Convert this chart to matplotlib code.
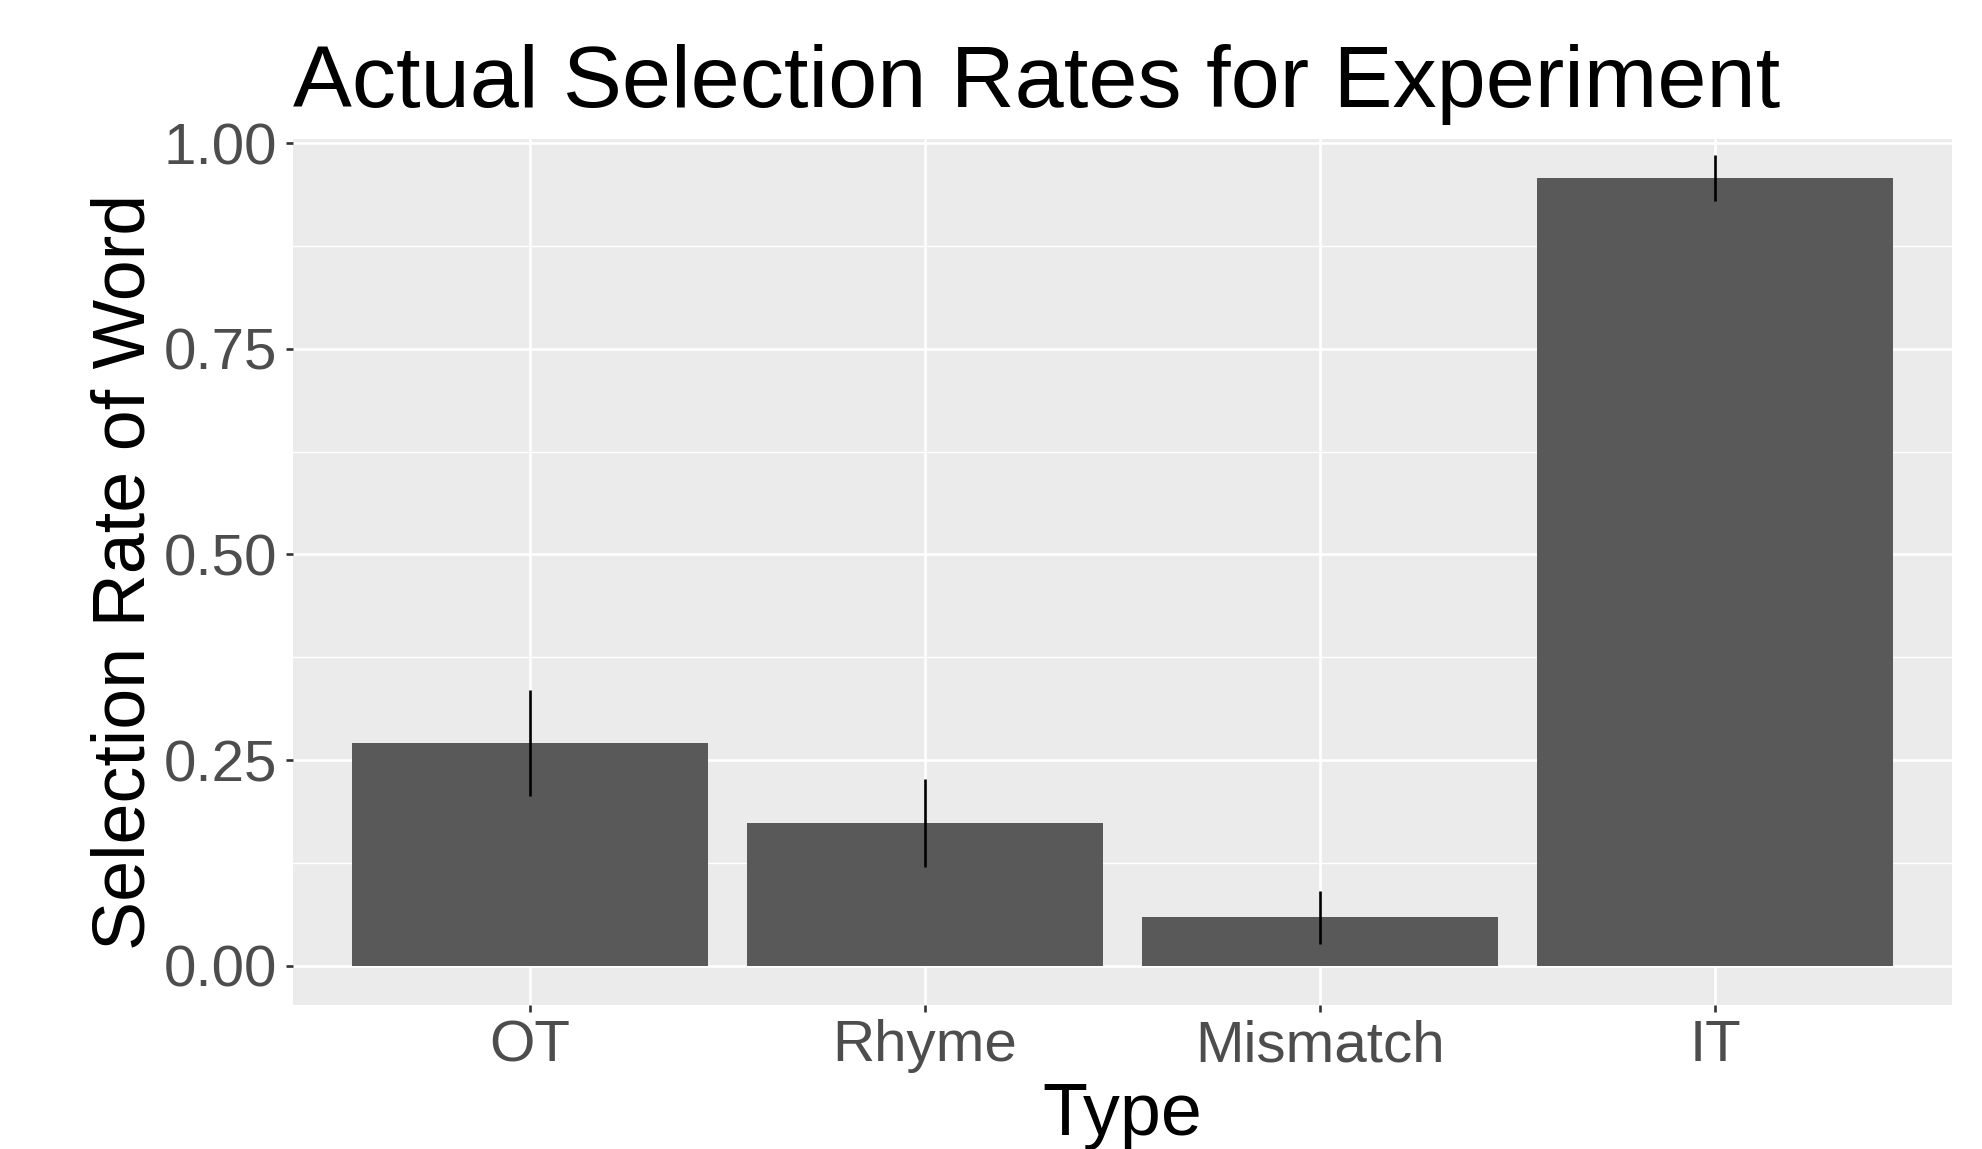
import matplotlib
matplotlib.use("Agg")
import matplotlib.pyplot as plt
from matplotlib.ticker import FixedLocator

# Data
categories = ["OT", "Rhyme", "Mismatch", "IT"]
rates = [0.271, 0.173, 0.059, 0.957]
err_low = [0.207, 0.120, 0.026, 0.930]
err_high = [0.335, 0.227, 0.091, 0.985]
y_ticks = [0.00, 0.25, 0.50, 0.75, 1.00]
y_tick_labels = ["0.00", "0.25", "0.50", "0.75", "1.00"]
y_minor = [0.125, 0.375, 0.625, 0.875]

W, H = 1982, 1149
DPI = 100
plt.rcParams['font.family'] = ['Liberation Sans', 'DejaVu Sans']

fig = plt.figure(figsize=(W / DPI, H / DPI), dpi=DPI)
ax = fig.add_axes([293 / W, 1 - 1005.3 / H, (1952 - 293) / W, (1005.3 - 139) / H])
ax.set_facecolor("#EBEBEB")

x = list(range(1, len(categories) + 1))
ax.bar(x, rates, width=0.9, color="#595959", zorder=3)
ax.vlines(x, err_low, err_high, color="black", linewidth=1.9, zorder=4)

ax.set_xlim(0.4, 4.6)
ax.set_ylim(-0.048, 1.005)

ax.set_xticks(x)
ax.set_xticklabels(categories)
ax.set_yticks(y_ticks)
ax.set_yticklabels(y_tick_labels)
ax.yaxis.set_minor_locator(FixedLocator(y_minor))

ax.grid(which="major", axis="both", color="white", linewidth=1.9, zorder=1)
ax.grid(which="minor", axis="y", color="white", linewidth=0.95, zorder=1)
ax.set_axisbelow(True)

for s in ax.spines.values():
    s.set_visible(False)

ax.tick_params(axis="both", which="major", length=5, width=1.9, color="#333333",
               labelsize=42, labelcolor="#4D4D4D")
ax.tick_params(axis="y", which="major", pad=6.7)
ax.tick_params(axis="x", which="major", pad=5)
ax.tick_params(axis="y", which="minor", length=0)

# Title
fig.text(293 / W, 1 - 107.3 / H, "Actual Selection Rates for Experiment",
         fontsize=63.5, color="black", ha="left", va="baseline")
# X axis title
fig.text(1122.5 / W, 1 - 1135 / H, "Type", fontsize=53, color="black",
         ha="center", va="baseline")
# Y axis title
fig.text(145 / W, 1 - 572 / H, "Selection Rate of Word", fontsize=53, color="black",
         ha="center", va="baseline", rotation=90, rotation_mode="anchor")

fig.savefig("out.png", dpi=DPI, facecolor="white")
